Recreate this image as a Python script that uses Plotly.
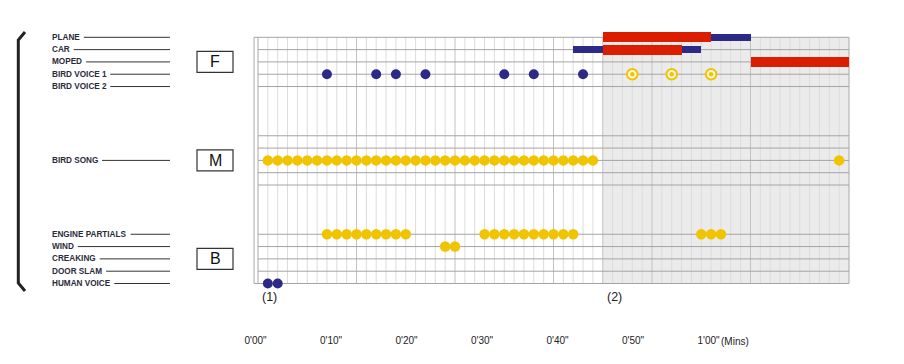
import plotly.graph_objects as go

W, H = 904, 364

# ---------------- data ----------------
row_labels = ["PLANE", "CAR", "MOPED", "BIRD VOICE 1", "BIRD VOICE 2",
              "BIRD SONG",
              "ENGINE PARTIALS", "WIND", "CREAKING", "DOOR SLAM", "HUMAN VOICE"]
row_index = [0, 1, 2, 3, 4, 10, 16, 17, 18, 19, 20]
grid_rows = [0, 1, 2, 3, 4, 8, 9, 10, 11, 12, 16, 17, 18, 19, 20]
section_names = ["F", "M", "B"]
section_rows = [2, 10, 18]

# times in seconds (one grid column = 1 s)
bird_voice1_t = [7, 12, 14, 17, 25, 28, 33]
bird_voice1_ring_t = [38, 42, 46]
bird_song_t = [1, 2, 3, 4, 5, 6, 7, 8, 9, 10, 11, 12, 13, 14, 15, 16, 17,
               18, 19, 20, 21, 22, 23, 24, 25, 26, 27, 28, 29, 30, 31, 32,
               33, 34, 59]
engine_t = [7, 8, 9, 10, 11, 12, 13, 14, 15,
            23, 24, 25, 26, 27, 28, 29, 30, 31, 32,
            45, 46, 47]
wind_t = [19, 20]
human_voice_t = [1, 2]

# bars: (row, start, end)
red_rows = [0, 1, 2]
red_start = [35, 35, 50]
red_end = [46, 43, 60]
blue_rows = [0, 1, 1]
blue_start = [46, 32, 43]
blue_end = [50, 35, 45]

section_start = [0, 35]
section_marks = ["(1)", "(2)"]
time_end = 60

tick_vals = [0, 10, 20, 30, 40, 50, 60]
tick_text = ["0'00\"", "0'10\"", "0'20\"", "0'30\"", "0'40\"", "0'50\"", "1'00\""]
unit_label = "(Mins)"

# ---------------- styling ----------------
NAVY = "#2d2a87"
YELLOW = "#f0c400"
RED = "#dc1e00"
TXT = "#222222"

OFF = 8                          # page body margin
X0_PX, SEC_PX = 258.0, 9.85      # screen x pixel of t=0, pixels per second
R0_PX, ROW_PX = 37.3, 12.31      # screen y pixel of row 0, pixels per row
L0_PX, LAB_PX = 255.6, 7.55      # label scale


def px_x(p):
    return (p - OFF) / W


def px_y(p):
    return 1 - (p - OFF) / H


fig = go.Figure()

# bars
fig.add_trace(go.Bar(
    y=blue_rows, x=[e - s for s, e in zip(blue_start, blue_end)], base=blue_start,
    orientation="h", width=7 / ROW_PX, marker=dict(color=NAVY, line=dict(width=0)),
    showlegend=False, hoverinfo="skip"))
fig.add_trace(go.Bar(
    y=red_rows, x=[e - s for s, e in zip(red_start, red_end)], base=red_start,
    orientation="h", width=10 / ROW_PX, marker=dict(color=RED, line=dict(width=0)),
    showlegend=False, hoverinfo="skip"))

# dots
fig.add_trace(go.Scatter(x=bird_voice1_t, y=[3] * len(bird_voice1_t), mode="markers",
                         marker=dict(size=10, color=NAVY, line=dict(width=0)),
                         showlegend=False))
fig.add_trace(go.Scatter(x=bird_voice1_ring_t, y=[3] * len(bird_voice1_ring_t), mode="markers",
                         marker=dict(size=10.5, color="#fff8d8", line=dict(width=2, color=YELLOW)),
                         showlegend=False))
fig.add_trace(go.Scatter(x=bird_voice1_ring_t, y=[3] * len(bird_voice1_ring_t), mode="markers",
                         marker=dict(size=4.5, color=YELLOW, line=dict(width=0)),
                         showlegend=False))
fig.add_trace(go.Scatter(x=bird_song_t, y=[10] * len(bird_song_t), mode="markers",
                         marker=dict(size=10.5, color=YELLOW, line=dict(width=0)),
                         showlegend=False))
fig.add_trace(go.Scatter(x=engine_t, y=[16] * len(engine_t), mode="markers",
                         marker=dict(size=10.5, color=YELLOW, line=dict(width=0)),
                         showlegend=False))
fig.add_trace(go.Scatter(x=wind_t, y=[17] * len(wind_t), mode="markers",
                         marker=dict(size=10.5, color=YELLOW, line=dict(width=0)),
                         showlegend=False))
fig.add_trace(go.Scatter(x=human_voice_t, y=[20] * len(human_voice_t), mode="markers",
                         marker=dict(size=10, color=NAVY, line=dict(width=0)),
                         showlegend=False))
# dummy trace for the label axis
fig.add_trace(go.Scatter(x=[], y=[], xaxis="x2", yaxis="y", showlegend=False))

shapes = []
# shaded section (2)
shapes.append(dict(type="rect", xref="x", yref="y", x0=section_start[1], x1=time_end,
                   y0=0, y1=20, fillcolor="#ebebeb", line=dict(width=0), layer="below"))
# vertical grid
for t in range(0, time_end + 1):
    if t in (0, time_end):
        col, w = "#a8a8a8", 1
    elif t % 10 == 0 or t == section_start[1]:
        col, w = "#c2c2c2", 1
    else:
        col, w = "#dcdcdc", 1
    shapes.append(dict(type="line", xref="x", yref="y", x0=t, x1=t, y0=0, y1=20,
                       line=dict(color=col, width=w), layer="below"))
# horizontal grid
for r in grid_rows:
    xs = -0.4 if r in (0, 20) else 0
    shapes.append(dict(type="line", xref="x", yref="y", x0=xs, x1=time_end, y0=r, y1=r,
                       line=dict(color="#a4a4a4", width=1), layer="below"))
# outer left line
shapes.append(dict(type="line", xref="x", yref="y", x0=-0.4, x1=-0.4, y0=0, y1=20,
                   line=dict(color="#a8a8a8", width=1), layer="below"))

annotations = []
# row labels with leader lines
LAB_SIZE = 8.2
for lab, r in zip(row_labels, row_index):
    annotations.append(dict(xref="paper", yref="y", x=px_x(50), y=r,
                            text="<b>" + lab + "</b>",
                            showarrow=False, xanchor="left", yanchor="middle",
                            font=dict(family="Liberation Sans, Arial", size=LAB_SIZE,
                                      color="#2b2b3b")))
    est_w = 0
    for ch in lab:
        est_w += {"I": 0.278, " ": 0.278, "1": 0.556, "2": 0.556, "L": 0.611,
                  "M": 0.833, "W": 0.944, "O": 0.778, "G": 0.778, "C": 0.722,
                  "D": 0.722, "H": 0.722, "N": 0.722, "R": 0.722, "V": 0.667,
                  "T": 0.611, "U": 0.722, "A": 0.722, "K": 0.722}.get(ch, 0.667)
    x_start = 50 + est_w * LAB_SIZE + 6
    shapes.append(dict(type="line", xref="paper", yref="y", x0=px_x(x_start), x1=px_x(170),
                       y0=r, y1=r, line=dict(color="#333333", width=1)))

# section boxes
for name, r in zip(section_names, section_rows):
    shapes.append(dict(type="rect", xref="paper", yref="y", x0=px_x(197), x1=px_x(233),
                       y0=r - 0.85, y1=r + 0.85, line=dict(color="#333333", width=1.2),
                       fillcolor="white"))
    annotations.append(dict(xref="paper", yref="y", x=px_x(215), y=r, text=name,
                            showarrow=False, xanchor="center", yanchor="middle",
                            font=dict(family="Liberation Sans, Arial", size=16, color="#111111")))

# bracket
path = "M {:.4f},{:.4f} L {:.4f},{:.4f} L {:.4f},{:.4f} L {:.4f},{:.4f}".format(
    px_x(25), px_y(32), px_x(18.3), px_y(40), px_x(18.3), px_y(283), px_x(25), px_y(291))
shapes.append(dict(type="path", xref="paper", yref="paper", path=path,
                   line=dict(color="#222222", width=3)))

# section marks
for s, m in zip(section_start, section_marks):
    annotations.append(dict(xref="x", yref="paper", x=s + 0.2, y=px_y(297), text=m,
                            showarrow=False, xanchor="left", yanchor="middle",
                            font=dict(family="Liberation Sans, Arial", size=12.5, color=TXT)))

# unit label
annotations.append(dict(xref="paper", yref="paper", x=px_x(719), y=px_y(341), text=unit_label,
                        showarrow=False, xanchor="left", yanchor="middle",
                        font=dict(family="Liberation Sans, Arial", size=10, color=TXT)))

fig.update_layout(
    width=W, height=H,
    margin=dict(l=0, r=0, t=0, b=0),
    paper_bgcolor="white", plot_bgcolor="rgba(0,0,0,0)",
    barmode="overlay", bargap=0,
    showlegend=False,
    xaxis=dict(domain=[0, 1], range=[(OFF - X0_PX) / SEC_PX, (W + OFF - X0_PX) / SEC_PX],
               visible=False, fixedrange=True),
    yaxis=dict(domain=[0, 1], range=[(H + OFF - R0_PX) / ROW_PX, (OFF - R0_PX) / ROW_PX],
               visible=False, fixedrange=True),
    xaxis2=dict(overlaying="x", range=[(OFF - L0_PX) / LAB_PX, (W + OFF - L0_PX) / LAB_PX],
                anchor="free", position=px_y(333), side="bottom",
                tickvals=tick_vals, ticktext=tick_text, showgrid=False, zeroline=False,
                showline=False, ticks="", tickfont=dict(family="Liberation Sans, Arial",
                                                         size=10, color=TXT)),
    shapes=shapes,
    annotations=annotations,
)

fig.write_html("out.html")
